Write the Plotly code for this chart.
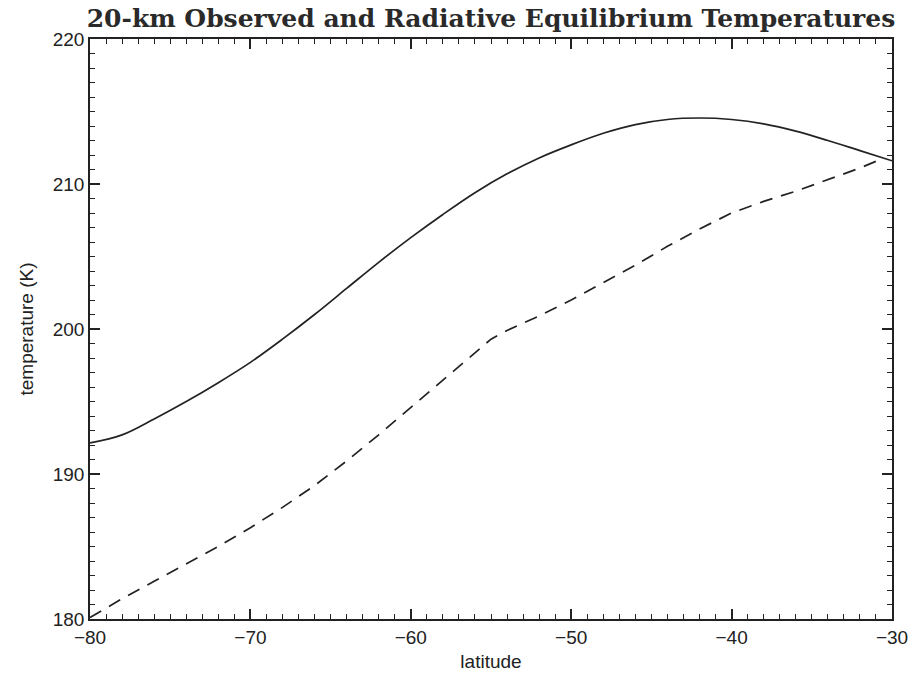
import plotly.graph_objects as go

lat = [-80, -78, -76, -74, -72, -70, -68, -66, -64, -62, -60, -58, -56,
       -54, -52, -50, -48, -46, -44, -42, -40, -38, -36, -34, -32, -30]
t_obs = [192.15, 192.7, 193.8, 195.0, 196.3, 197.7, 199.3, 201.0, 202.8, 204.6,
         206.3, 207.9, 209.4, 210.7, 211.8, 212.7, 213.5, 214.1, 214.45, 214.55,
         214.45, 214.15, 213.65, 213.0, 212.3, 211.6]
lat_rad = [-80, -78, -76, -74, -72, -70, -68, -66, -64, -62, -60, -58, -56,
           -55, -54, -52, -50, -48, -46, -44, -42, -40, -38, -36, -34, -32, -30.5]
t_rad = [180.1, 181.4, 182.6, 183.8, 185.0, 186.3, 187.7, 189.2, 190.9, 192.7,
         194.6, 196.5, 198.4, 199.3, 199.9, 200.9, 202.0, 203.2, 204.4, 205.7,
         206.9, 208.0, 208.8, 209.5, 210.3, 211.1, 211.8]

x_ticks = [-80, -70, -60, -50, -40, -30]
y_ticks = [180, 190, 200, 210, 220]


def fmt(v):
    return str(v).replace("-", "\u2212")


ink = "#222222"
sans = "Liberation Sans, Arial, sans-serif"
fig = go.Figure()
fig.add_trace(go.Scatter(x=lat, y=t_obs, mode="lines", line=dict(color=ink, width=1.7),
                         line_shape="spline", showlegend=False))
fig.add_trace(go.Scatter(x=lat_rad, y=t_rad, mode="lines",
                         line=dict(color=ink, width=1.7, dash="13px,9px"),
                         showlegend=False))

axis_common = dict(
    showgrid=False, zeroline=False, showline=True, linecolor=ink, linewidth=1.6,
    mirror="allticks", ticks="inside", ticklen=10, tickwidth=1.5, tickcolor=ink,
    tickfont=dict(family=sans, size=19, color=ink), automargin=False,
)

fig.update_xaxes(range=[-80, -30], tickvals=x_ticks, ticktext=[fmt(v) for v in x_ticks],
                 title=dict(text="latitude", standoff=8,
                            font=dict(family=sans, size=19, color=ink)),
                 minor=dict(dtick=1, tick0=-80, ticks="inside", ticklen=5, tickwidth=1.3, tickcolor=ink),
                 **axis_common)
fig.update_yaxes(range=[180, 220], tickvals=y_ticks, ticktext=[fmt(v) for v in y_ticks],
                 title=dict(text="temperature (K)", standoff=14,
                            font=dict(family=sans, size=19, color=ink)),
                 minor=dict(dtick=1, tick0=180, ticks="inside", ticklen=5, tickwidth=1.3, tickcolor=ink),
                 **axis_common)

fig.update_layout(
    width=913, height=676,
    margin=dict(l=90, r=21, t=39, b=57),
    paper_bgcolor="white", plot_bgcolor="white",
    title=dict(text="<b>20-km Observed and Radiative Equilibrium Temperatures</b>",
               x=0.5, xanchor="center", xref="paper", y=1 - 18 / 676, yanchor="middle",
               font=dict(family="DejaVu Serif, serif", size=25, color="#2a2a2a")),
)

fig.write_html("out.html")
